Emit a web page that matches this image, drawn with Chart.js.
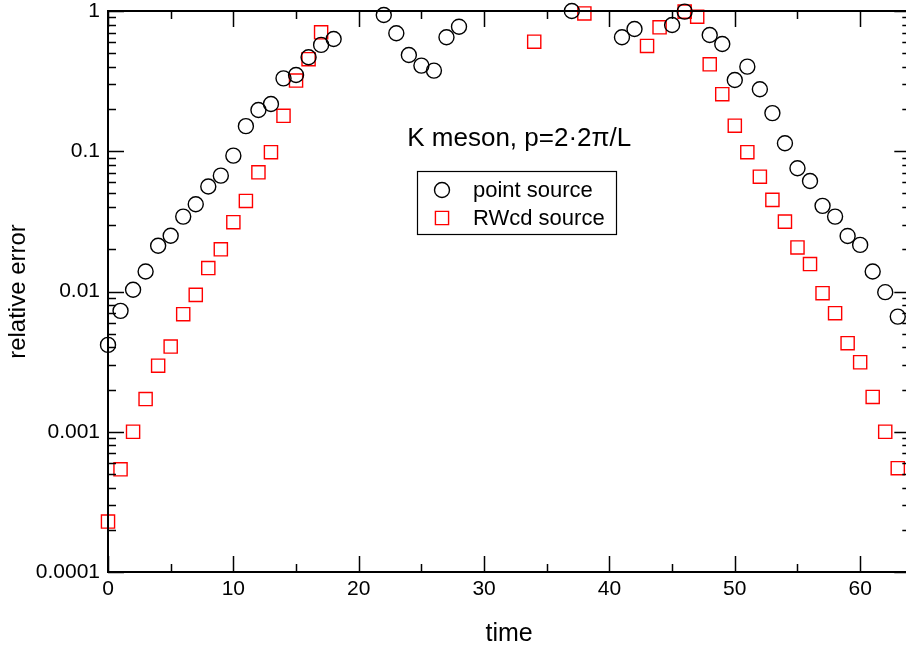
<!DOCTYPE html>
<html>
<head>
<meta charset="utf-8">
<script src="https://cdn.jsdelivr.net/npm/chart.js@4/dist/chart.umd.min.js"></script>
<style>
  html, body { margin: 0; padding: 0; overflow: hidden; background: #fff; }
  #errChart { display: block; }
</style>
</head>
<body>
<canvas id="errChart" width="921" height="653"></canvas>
<script>
const FONT = "'Liberation Sans', Arial, sans-serif";

// time slices where a value is shown (missing ones are above the plot)
const pointTimes = [0, 1, 2, 3, 4, 5, 6, 7, 8, 9, 10, 11, 12, 13, 14, 15, 16, 17, 18,
  22, 23, 24, 25, 26, 27, 28, 37, 41, 42, 45, 46, 48, 49, 50, 51, 52, 53, 54, 55,
  56, 57, 58, 59, 60, 61, 62, 63];
const pointErr = [0.00416, 0.00728, 0.0103, 0.0139, 0.0212, 0.0250, 0.0342, 0.0419, 0.056,
  0.067, 0.093, 0.151, 0.197, 0.217, 0.331, 0.350, 0.468, 0.573, 0.631,
  0.937, 0.694, 0.486, 0.408, 0.376, 0.650, 0.773, 1.0, 0.65, 0.744, 0.795, 0.99,
  0.674, 0.582, 0.322, 0.401, 0.277, 0.187, 0.114, 0.0757, 0.0614, 0.0408, 0.0342,
  0.0249, 0.0215, 0.0139, 0.00989, 0.00662];

const rwcdTimes = [0, 1, 2, 3, 4, 5, 6, 7, 8, 9, 10, 11, 12, 13, 14, 15, 16, 17,
  34, 38, 43, 44, 46, 47, 48, 49, 50, 51, 52, 53, 54, 55, 56, 57, 58, 59, 60, 61, 62, 63];
const rwcdErr = [0.000229, 0.00054, 0.00100, 0.00171, 0.00296, 0.00405, 0.00689, 0.00946,
  0.0147, 0.0200, 0.0312, 0.0442, 0.0708, 0.0984, 0.179, 0.319, 0.453, 0.705,
  0.604, 0.96, 0.563, 0.765, 0.99, 0.911, 0.417, 0.255, 0.152, 0.0984, 0.0659,
  0.0450, 0.0315, 0.0206, 0.0157, 0.00972, 0.0070, 0.00428, 0.00313, 0.00177,
  0.00100, 0.00055];

const xTicks = [0, 10, 20, 30, 40, 50, 60];
const xMinorTicks = [5, 15, 25, 35, 45, 55];
const yTicks = [0.0001, 0.001, 0.01, 0.1, 1];
const yTickLabels = ['0.0001', '0.001', '0.01', '0.1', '1'];

const plotTitle = 'K meson, p=2\u00b72\u03c0/L';

function toXY(xs, ys) {
  return xs.map((x, i) => ({ x: x, y: ys[i] }));
}

// inward ticks on all four sides, frame, title text and legend box
const framePlugin = {
  id: 'frame',
  afterDatasetsDraw(chart) {
    const { ctx, chartArea: a, scales: { x, y } } = chart;
    ctx.save();
    ctx.strokeStyle = '#000';
    ctx.lineWidth = 1.5;
    ctx.beginPath();
    xTicks.forEach(v => {
      const px = Math.round(x.getPixelForValue(v)) + 0.5;
      ctx.moveTo(px, a.bottom); ctx.lineTo(px, a.bottom - 16);
      ctx.moveTo(px, a.top); ctx.lineTo(px, a.top + 16);
    });
    xMinorTicks.forEach(v => {
      const px = Math.round(x.getPixelForValue(v)) + 0.5;
      ctx.moveTo(px, a.bottom); ctx.lineTo(px, a.bottom - 8);
      ctx.moveTo(px, a.top); ctx.lineTo(px, a.top + 8);
    });
    yTicks.forEach(v => {
      const py = Math.round(y.getPixelForValue(v)) + 0.5;
      ctx.moveTo(a.left, py); ctx.lineTo(a.left + 16, py);
      ctx.moveTo(a.right, py); ctx.lineTo(a.right - 16, py);
      if (v < 1) {
        for (let k = 2; k < 10; k++) {
          const pm = Math.round(y.getPixelForValue(v * k)) + 0.5;
          ctx.moveTo(a.left, pm); ctx.lineTo(a.left + 8, pm);
          ctx.moveTo(a.right, pm); ctx.lineTo(a.right - 8, pm);
        }
      }
    });
    ctx.stroke();

    ctx.lineWidth = 2;
    ctx.strokeRect(a.left, a.top, a.right - a.left, a.bottom - a.top);

    ctx.fillStyle = '#000';
    ctx.font = '26px ' + FONT;
    ctx.textAlign = 'center';
    ctx.textBaseline = 'alphabetic';
    ctx.fillText(plotTitle, x.getPixelForValue(32.8), 146);

    // legend
    ctx.lineWidth = 1.2;
    ctx.strokeRect(417.5, 171.5, 199, 63);
    ctx.font = '22px ' + FONT;
    ctx.textAlign = 'left';
    chart.data.datasets.forEach((ds, i) => {
      const cy = 190 + i * 28;
      ctx.strokeStyle = ds.borderColor;
      ctx.lineWidth = ds.borderWidth;
      ctx.beginPath();
      if (ds.pointStyle === 'circle') {
        ctx.arc(442, cy, ds.pointRadius, 0, Math.PI * 2);
      } else {
        const s = ds.pointRadius * Math.SQRT1_2;
        ctx.rect(442 - s, cy - s, 2 * s, 2 * s);
      }
      ctx.stroke();
      ctx.fillStyle = '#000';
      ctx.fillText(ds.label, 473, cy + 7);
    });
    ctx.restore();
  }
};

new Chart(document.getElementById('errChart'), {
  type: 'scatter',
  data: {
    datasets: [
      {
        label: 'point source',
        data: toXY(pointTimes, pointErr),
        pointStyle: 'circle',
        pointRadius: 7.5,
        pointHoverRadius: 7.5,
        borderWidth: 1.4,
        borderColor: '#000000',
        backgroundColor: 'rgba(0,0,0,0)',
        clip: false
      },
      {
        label: 'RWcd source',
        data: toXY(rwcdTimes, rwcdErr),
        pointStyle: 'rect',
        pointRadius: 9.3,
        pointHoverRadius: 9.3,
        borderWidth: 1.4,
        borderColor: '#ff0000',
        backgroundColor: 'rgba(0,0,0,0)',
        clip: false
      }
    ]
  },
  options: {
    responsive: false,
    animation: false,
    events: [],
    layout: { padding: { left: 0, right: 2, top: 11, bottom: 0 } },
    plugins: {
      legend: { display: false },
      tooltip: { enabled: false },
      title: { display: false }
    },
    scales: {
      x: {
        type: 'linear',
        min: 0,
        max: 64,
        afterBuildTicks: s => { s.ticks = xTicks.map(v => ({ value: v })); },
        afterFit: s => { s.height = 81; s.paddingLeft = 0; s.paddingRight = 0; },
        grid: { display: false, drawTicks: false },
        border: { display: false },
        ticks: {
          color: '#000',
          font: { family: FONT, size: 21 },
          padding: 5,
          maxRotation: 0
        },
        title: {
          display: true,
          text: 'time',
          color: '#000',
          font: { family: FONT, size: 25 },
          padding: { top: 0, bottom: 4 }
        }
      },
      y: {
        type: 'logarithmic',
        min: 0.0001,
        max: 1,
        afterBuildTicks: s => { s.ticks = yTicks.map(v => ({ value: v })); },
        afterFit: s => { s.width = 108; s.paddingTop = 0; s.paddingBottom = 0; },
        grid: { display: false, drawTicks: false },
        border: { display: false },
        ticks: {
          color: '#000',
          font: { family: FONT, size: 21 },
          padding: 8,
          callback: (v) => yTickLabels[yTicks.indexOf(v)] ?? ''
        },
        title: {
          display: true,
          text: 'relative error',
          color: '#000',
          font: { family: FONT, size: 24 },
          padding: { top: 4, bottom: 0 }
        }
      }
    }
  },
  plugins: [framePlugin]
});
</script>
</body>
</html>
